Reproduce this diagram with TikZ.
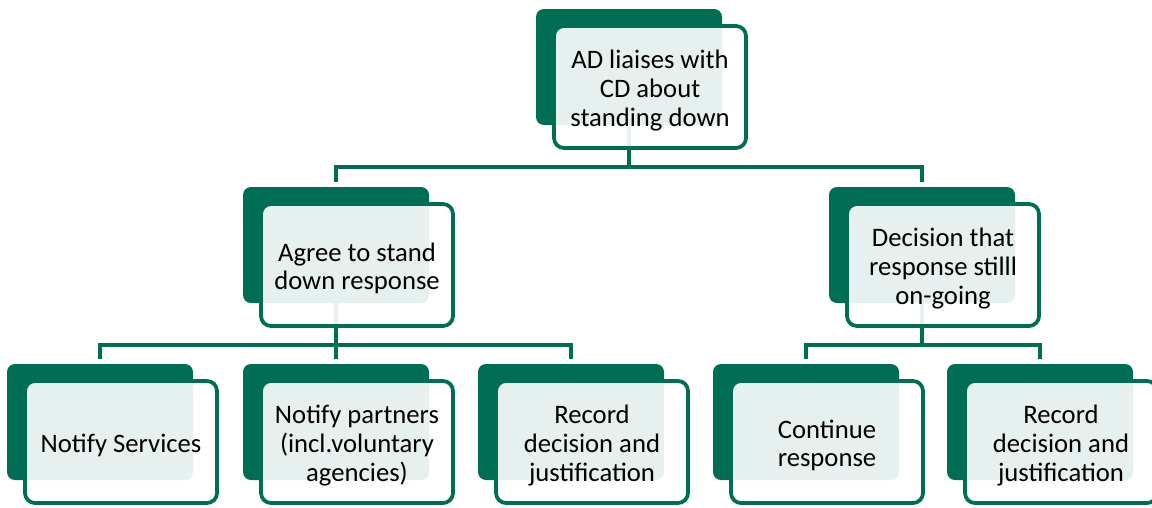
\documentclass[tikz,border=0pt]{standalone}
\usepackage{fontspec}
\setmainfont{Carlito}
\usetikzlibrary{calc}
\definecolor{dkgreen}{RGB}{0,110,85}
\begin{document}
\begin{tikzpicture}[x=0.75pt,y=-0.75pt,
  backbox/.style={fill=dkgreen, rounded corners=6pt, minimum width=139.5pt,
    minimum height=87pt, inner sep=0pt},
  frontbox/.style={draw=dkgreen, line width=2.8pt, fill=white, fill opacity=0.9,
    rounded corners=7.5pt, minimum width=144pt, minimum height=91.5pt, inner sep=0pt},
  paneltext/.style={inner sep=0pt, align=center, font=\fontsize{20}{21.5}\selectfont},
  link/.style={draw=dkgreen, line width=3pt}]
\useasboundingbox (0,0) rectangle (1152,507);
\clip (0,0) rectangle (1152,507);

% dark back panels
\node[backbox] (b0) at (629,67) {};
\node[backbox] (b1) at (336,245) {};
\node[backbox] (b2) at (922,245) {};
\node[backbox] (b3) at (100,422) {};
\node[backbox] (b4) at (336,422) {};
\node[backbox] (b5) at (571,422) {};
\node[backbox] (b6) at (806,422) {};
\node[backbox] (b7) at (1040,422) {};

% connectors
\draw[link] (b0.south) -- ++(0,42) -| ($(b1.north)+(0,-5)$);
\draw[link] (b0.south) -- ++(0,42) -| ($(b2.north)+(0,-5)$);
\draw[link] (b1.south) -- ++(0,42) -| ($(b3.north)+(0,-5)$);
\draw[link] (b1.south) -- ++(0,42) -| ($(b4.north)+(0,-5)$);
\draw[link] (b1.south) -- ++(0,42) -| ($(b5.north)+(0,-5)$);
\draw[link] (b2.south) -- ++(0,42) -| ($(b6.north)+(0,-5)$);
\draw[link] (b2.south) -- ++(0,42) -| ($(b7.north)+(0,-5)$);

% translucent front panels
\foreach \i in {0,...,7} {
  \node[frontbox] (f\i) at ($(b\i)+(21,20)$) {};
}

% panel texts
\node[paneltext] (t0) at ($(f0)+(0,3.5)$) {AD liaises with\\CD about\\standing down};
\node[paneltext] (t1) at ($(f1)+(0,3.5)$) {Agree to stand\\down response};
\node[paneltext] (t2) at ($(f2)+(0,3.5)$) {Decision that\\response stilll\\on-going};
\node[paneltext] (t3) at ($(f3)+(0,3)$) {Notify Services};
\node[paneltext] (t4) at ($(f4)+(0,3.5)$) {Notify partners\\(incl.voluntary\\agencies)};
\node[paneltext] (t5) at ($(f5)+(0,3.5)$) {Record\\decision and\\justification};
\node[paneltext] (t6) at ($(f6)+(0,3.5)$) {Continue\\response};
\node[paneltext] (t7) at ($(f7)+(0,3.5)$) {Record\\decision and\\justification};
\end{tikzpicture}
\end{document}
